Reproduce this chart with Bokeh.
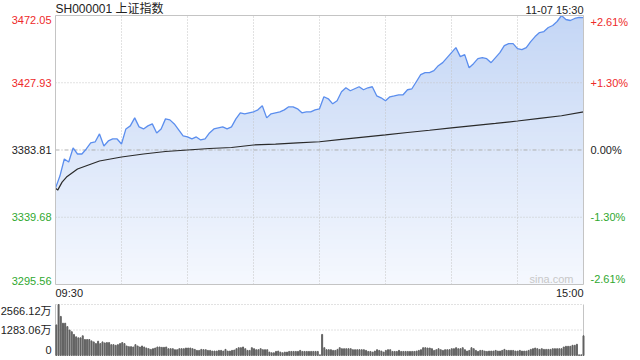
import numpy as np
from bokeh.plotting import figure
from bokeh.models import Range1d, Label
from bokeh.layouts import column
from bokeh.embed import file_html
from bokeh.resources import INLINE

# ---------------- data ----------------
title = "SH000001 上证指数"
stamp = "11-07 15:30"
watermark = "sina.com"
prev_close = 3383.81
price_levels = [3472.05, 3427.93, 3383.81, 3339.68, 3295.56]
price_labels = ["3472.05", "3427.93", "3383.81", "3339.68", "3295.56"]
pct_labels = ["+2.61%", "+1.30%", "0.00%", "-1.30%", "-2.61%"]
time_ticks = [30, 60, 90, 120, 150, 180, 210]          # minutes since open (lunch removed)
time_labels = ["09:30", "15:00"]
vol_levels = [2566.12, 1283.06, 0]
vol_labels = ["2566.12万", "1283.06万", "0"]

price_minutes = list(range(0, 241, 2))
price = [
    3358.78, 3366.69, 3377.88, 3375.91, 3385.13, 3381.18, 3381.18, 3384.47, 3388.42, 3389.08,
    3394.35, 3386.44, 3389.74, 3391.05, 3391.05, 3387.76, 3397.64, 3399.62, 3404.89, 3398.96,
    3397.64, 3399.62, 3400.93, 3395.01, 3397.64, 3404.23, 3403.57, 3400.93, 3396.98, 3393.03,
    3392.37, 3391.05, 3392.37, 3390.40, 3391.05, 3395.01, 3397.64, 3398.30, 3398.96, 3397.64,
    3398.96, 3404.23, 3408.18, 3407.52, 3408.18, 3408.84, 3410.15, 3412.79, 3404.89, 3407.52,
    3408.18, 3408.84, 3410.15, 3412.13, 3412.13, 3410.81, 3408.18, 3408.84, 3408.84, 3410.15,
    3410.81, 3418.72, 3417.40, 3414.11, 3416.08, 3422.01, 3424.64, 3422.67, 3423.98, 3425.30,
    3423.33, 3424.64, 3425.30, 3419.37, 3418.06, 3416.08, 3418.72, 3419.37, 3420.03, 3420.03,
    3423.33, 3423.98, 3428.59, 3433.21, 3434.52, 3434.52, 3435.84, 3439.13, 3441.11, 3444.40,
    3447.69, 3450.99, 3445.06, 3446.38, 3437.82, 3440.45, 3443.74, 3444.40, 3443.74, 3441.11,
    3444.40, 3447.69, 3452.30, 3453.62, 3453.62, 3450.33, 3449.67, 3450.99, 3454.94, 3458.23,
    3460.87, 3461.52, 3464.16, 3465.48, 3468.11, 3472.05, 3469.43, 3468.77, 3470.09, 3470.75,
    3470.66,
]

avg_minutes = [0, 1, 3, 5, 10, 15, 20, 25, 30, 40, 50, 60, 70, 80, 90, 100, 110, 120,
               130, 140, 150, 160, 170, 180, 190, 200, 210, 220, 230, 240]
avg_price = [3358.78, 3357.47, 3362.73, 3366.03, 3371.30, 3373.93, 3376.57, 3377.88, 3379.20,
             3381.18, 3382.82, 3383.81, 3384.80, 3385.46, 3387.10, 3387.63, 3388.42, 3389.21,
             3390.73, 3392.24, 3393.75, 3395.27, 3396.78, 3398.30, 3399.75, 3401.26, 3402.84,
             3404.56, 3406.27, 3408.84]

# volume per minute, in 万 (241 minutes)
volume = [
    1539, 2566, 1967, 1625, 1625, 1454, 1283, 1197, 1060, 940, 889, 889, 992, 804, 804, 804, 735,
    684, 599, 718, 599, 684, 633, 650, 650, 547, 547, 513, 547, 599, 650, 599, 479, 445, 445, 428,
    547, 479, 428, 479, 428, 376, 342, 308, 342, 376, 428, 428, 410, 410, 428, 342, 342, 342, 291,
    291, 342, 342, 342, 376, 376, 376, 342, 308, 257, 257, 308, 291, 291, 257, 257, 222, 222, 222,
    257, 257, 222, 308, 222, 222, 257,
    274, 342, 393, 393, 428, 342, 257, 257, 393, 342, 291, 291, 342, 291, 291, 291, 171, 137, 137,
    205, 222, 171, 137, 171, 171, 205, 205, 205, 205, 205, 257, 205, 205, 205, 205, 205, 205, 205,
    205, 34, 1060, 393, 291, 291, 291, 257, 257, 308, 393, 342, 342, 342, 342, 342, 291, 291, 291,
    291, 291, 291, 257, 205, 205, 171, 222, 291, 257, 222, 171, 257, 291, 291, 205, 205, 205, 257,
    205, 205, 205, 205, 205,
    205, 205, 222, 257, 291, 393, 393, 376, 376, 342, 257, 291, 342, 291, 257, 291, 291, 291, 342,
    342, 393, 342, 342, 393, 291, 222, 257, 393, 342, 257, 205, 257, 257, 222, 205, 222, 222, 222,
    257, 222, 222, 257, 308, 257, 257, 257, 257, 222, 222, 257, 222, 222, 222, 257, 308, 342, 376,
    342, 308, 342, 308, 308, 308, 308, 342, 342, 342, 342, 342, 428, 462, 462, 462, 513, 513, 564,
    34, 34, 992,
]
vol_minutes = list(range(len(volume)))

# ---------------- style / layout ----------------
FONT = "Liberation Sans, Noto Sans CJK SC"
RED = "#ee2a2a"
GREEN = "#2fa82f"
DARK = "#222222"
GRID = "#c4c4c4"
BORDER = "#c4c4c4"
level_colors = [RED, RED, DARK, GREEN, GREEN]
FILL_TOP = (0xc4, 0xd6, 0xf5)
FILL_BOTTOM = (0xf5, 0xf8, 0xfe)

W = 640
H1, H2 = 298, 62
BOX_L, BOX_R = 55, 583          # pixel box of both panels
BOX1_T, BOX1_B = 15, 284        # price panel (pixels from top of panel 1)
BOX2_T, BOX2_B = 6, 57          # volume panel (pixels from top of panel 2)

lo, hi = price_levels[-1], price_levels[0]
t0, t1 = 0, 240

# ranges chosen so that the data box lands on the pixel box, whole canvas is the frame
xs = (t1 - t0) / (BOX_R - BOX_L)
x_range1 = Range1d(t0 - BOX_L * xs, t1 + (W - BOX_R) * xs)
ys = (hi - lo) / (BOX1_B - BOX1_T)
y_range1 = Range1d(lo - (H1 - BOX1_B) * ys, hi + BOX1_T * ys)

p1 = figure(width=W, height=H1, x_range=x_range1, y_range=y_range1,
            x_axis_location=None, y_axis_location=None, toolbar_location=None,
            output_backend="svg", min_border=0)
p1.outline_line_color = None
p1.background_fill_color = "white"
p1.border_fill_color = "white"
p1.grid.visible = False

# vertical gradient under the price line: gradient bands, then white mask above the line
n_bands = 60
edges = np.linspace(lo, hi, n_bands + 1)
band_cols = []
for k in range(n_bands):
    f = (k + 0.5) / n_bands
    c = tuple(int(round(FILL_BOTTOM[i] + (FILL_TOP[i] - FILL_BOTTOM[i]) * f)) for i in range(3))
    band_cols.append("#%02x%02x%02x" % c)
overlap = (hi - lo) / n_bands * 0.3
p1.quad(left=t0, right=t1, bottom=edges[:-1], top=np.minimum(edges[1:] + overlap, hi),
        fill_color=band_cols, line_color=None)
p1.varea(x=price_minutes, y1=price, y2=hi, fill_color="white")

# grid
p1.segment(x0=time_ticks, y0=lo, x1=time_ticks, y1=hi, line_color=GRID,
           line_dash="1 2", line_width=1)
inner = [lv for lv in price_levels[1:-1] if lv != prev_close]
p1.segment(x0=t0, y0=inner, x1=t1, y1=inner, line_color=GRID, line_dash="1 2", line_width=1)
p1.segment(x0=t0, y0=prev_close, x1=t1, y1=prev_close, line_color="#b0b0b0",
           line_dash="4 2 1 2", line_width=1)

p1.line(price_minutes, price, line_color="#5b8eee", line_width=1.3)
p1.line(avg_minutes, avg_price, line_color="#2a2a2a", line_width=1.2)

# frame border
p1.quad(left=t0, right=t1, bottom=lo, top=hi, fill_color=None, line_color=BORDER, line_width=1)


def lab(fig, x, y, text, color, align, baseline, size="11px", xo=0, yo=0):
    fig.add_layout(Label(x=x, y=y, text=text, text_color=color, text_align=align,
                         text_baseline=baseline, text_font=FONT, text_font_size=size,
                         x_offset=xo, y_offset=yo))


n = len(price_levels)
for i, (lv, tl, pl) in enumerate(zip(price_levels, price_labels, pct_labels)):
    base = "top" if i == 0 else ("bottom" if i == n - 1 else "middle")
    lab(p1, t0, lv, tl, level_colors[i], "right", base, xo=-4)
    lab(p1, t1, lv, pl, level_colors[i], "left", base, xo=7)

lab(p1, t0, hi, title, DARK, "left", "bottom", size="12px")
lab(p1, t1, hi, stamp, DARK, "right", "bottom", size="11px")
lab(p1, t0, lo, time_labels[0], DARK, "left", "top", size="11px", yo=-2)
lab(p1, t1, lo, time_labels[1], DARK, "right", "top", size="11px", yo=-2)
lab(p1, t1, lo, watermark, "#c8c8c8", "right", "bottom", size="11px", xo=-10)

# ---------------- volume panel ----------------
v0 = -0.4
vxs = (t1 - v0) / (BOX_R - BOX_L)
x_range2 = Range1d(v0 - BOX_L * vxs, t1 + (W - BOX_R) * vxs)
vtop = vol_levels[0]
vys = vtop / (BOX2_B - BOX2_T)
y_range2 = Range1d(0 - (H2 - BOX2_B) * vys, vtop + BOX2_T * vys)

p2 = figure(width=W, height=H2, x_range=x_range2, y_range=y_range2,
            x_axis_location=None, y_axis_location=None, toolbar_location=None,
            output_backend="svg", min_border=0)
p2.outline_line_color = None
p2.background_fill_color = "white"
p2.border_fill_color = "white"
p2.grid.visible = False

p2.segment(x0=v0, y0=vol_levels[:2], x1=t1, y1=vol_levels[:2], line_color=GRID,
           line_dash="1 2", line_width=1)
p2.segment(x0=[v0, t1], y0=0, x1=[v0, t1], y1=vtop, line_color=BORDER, line_width=1)

p2.vbar(x=vol_minutes, top=volume, bottom=0, width=0.45, color="#606060")

for i, (lv, tl) in enumerate(zip(vol_levels, vol_labels)):
    base = "top" if i == 0 else ("bottom" if i == len(vol_levels) - 1 else "middle")
    lab(p2, v0, lv, tl, DARK, "right", base, xo=-4, yo=(2 if i == len(vol_levels) - 1 else 0))

layout = column(p1, p2, spacing=0)
open("out.html", "w").write(file_html(layout, INLINE))
